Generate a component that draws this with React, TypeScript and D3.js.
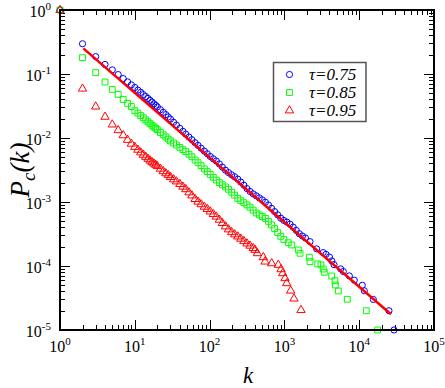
import React from "react";
import * as d3 from "d3";

// cumulative distributions P_c(k)
const tau075: [number, number][] = [
  [1, 1], [2, 0.297], [3, 0.187], [4, 0.141], [5, 0.116], [6, 0.098], [7, 0.085], [8, 0.0753], [9, 0.0677],
  [10, 0.0616], [11, 0.056], [12, 0.0517], [13, 0.0477], [14, 0.0444], [15, 0.0415], [16, 0.0388], [17, 0.0365],
  [18, 0.0342], [19, 0.0324], [20, 0.0306], [22, 0.0277], [24, 0.0252], [26, 0.0232], [28, 0.0213], [30, 0.0197],
  [33, 0.0176], [36, 0.0159], [40, 0.01415], [44, 0.0127], [48, 0.0115], [53, 0.01036], [58, 0.0094], [64, 0.00844],
  [70, 0.00766], [77, 0.00692], [85, 0.00624], [93, 0.00567], [102, 0.00514], [112, 0.00473], [123, 0.00436],
  [135, 0.00393], [148, 0.00351], [163, 0.00314], [179, 0.00288], [197, 0.00266], [216, 0.00248], [238, 0.00228],
  [261, 0.00205], [287, 0.00183], [316, 0.00162], [347, 0.00146], [382, 0.00134], [420, 0.00125], [461, 0.00116],
  [507, 0.00108], [557, 0.000993], [612, 0.000897], [673, 0.000796], [740, 0.000708], [813, 0.00063],
  [894, 0.000559], [983, 0.000515], [1080, 0.000485], [1190, 0.00045], [1310, 0.000405], [1440, 0.00036],
  [1580, 0.00032], [1740, 0.000294], [1910, 0.000274], [2200, 2.4e-4], [2700, 1.85e-4], [3300, 1.62e-4],
  [3600, 1.52e-4], [4000, 1.38e-4], [4300, 1.2e-4], [4600, 1.05e-4], [5650, 9.0e-5], [6130, 8.2e-5],
  [7380, 7.0e-5], [8600, 6.0e-5], [11000, 5.0e-5], [11700, 4.1e-5], [15450, 3.0e-5], [25000, 2.0e-5],
  [29200, 1.0e-5],
];

const tau085: [number, number][] = [
  [1, 1], [2, 0.18], [3, 0.105], [4, 0.075], [5, 0.0575], [6, 0.048], [7, 0.04], [8, 0.0348], [9, 0.031],
  [10, 0.0267], [11, 0.0245], [12, 0.0224], [13, 0.0207], [14, 0.0192], [15, 0.0179], [16, 0.0168], [17, 0.0158],
  [18, 0.0149], [19, 0.0142], [20, 0.0135], [22, 0.0122], [24, 0.0112], [26, 0.0104], [28, 0.0096], [30, 0.009],
  [33, 0.00833], [36, 0.00778], [40, 0.00713], [44, 0.00659], [48, 0.00614], [53, 0.00557], [58, 0.00509],
  [64, 0.00453], [70, 0.00411], [77, 0.0037], [85, 0.00329], [93, 0.00299], [102, 0.0027], [112, 0.00243],
  [123, 0.0022], [135, 0.00201], [148, 0.00186], [163, 0.00172], [179, 0.00158], [197, 0.00142], [216, 0.00128],
  [238, 0.00114], [261, 0.00105], [287, 0.000976], [316, 0.000902], [347, 0.00083], [382, 0.000746],
  [420, 0.000674], [461, 0.000629], [507, 0.000592], [557, 0.000553], [612, 0.000498], [673, 0.000438],
  [740, 0.000385], [813, 0.000332], [894, 0.000291], [983, 0.000259], [1127, 2.31e-4], [1253, 2.13e-4],
  [1535, 1.78e-4], [1618, 1.58e-4], [2153, 1.37e-4], [2198, 1.17e-4], [2786, 1.08e-4], [3083, 1.04e-4],
  [3311, 8.97e-5], [3412, 7.98e-5], [4285, 6.98e-5], [4742, 5.89e-5], [4800, 5.05e-5], [5260, 4.07e-5],
  [6934, 3.02e-5], [12450, 2.0e-5], [17660, 1.0e-5],
];

const tau095: [number, number][] = [
  [1, 1], [2, 0.0589], [3, 0.0309], [4, 0.0214], [5, 0.0162], [6, 0.0132], [7, 0.011], [8, 0.00933], [9, 0.00813],
  [10, 0.00724], [11, 0.00653], [12, 0.00593], [13, 0.00545], [14, 0.00506], [15, 0.00472], [16, 0.00443],
  [17, 0.00417], [18, 0.00398], [19, 0.0038], [20, 0.00363], [22, 0.0033], [24, 0.00302], [26, 0.0028],
  [28, 0.00262], [30, 0.00245], [33, 0.00225], [36, 0.00209], [40, 0.0019], [44, 0.00173], [48, 0.00158],
  [53, 0.00141], [58, 0.00126], [64, 0.00111], [70, 0.00101], [77, 0.00092], [85, 0.00084], [93, 0.000774],
  [102, 0.00071], [112, 0.000646], [123, 0.000589], [135, 0.000527], [148, 0.000468], [163, 0.000414],
  [179, 0.000372], [197, 0.000337], [216, 0.000311], [238, 0.000288], [261, 0.000266], [287, 0.000244],
  [316, 0.000224], [347, 0.000207], [382, 0.00019], [405, 1.78e-4], [435, 1.58e-4], [522, 1.37e-4],
  [551, 1.17e-4], [676, 1.1e-4], [828, 1.04e-4], [902, 8.87e-5], [948, 7.69e-5], [1019, 6.43e-5],
  [1074, 5.37e-5], [1213, 4.11e-5], [1343, 3.09e-5], [1667, 2.05e-5],
];

// power-law fit ~ k^-1 drawn over the tau=0.75 data
const fitK = [2.05, 26600];
const fitP = [0.251, 1.76e-5];

const legendLabels = ["τ=0.75", "τ=0.85", "τ=0.95"];
const xExps = [0, 1, 2, 3, 4, 5];
const yExps = [0, -1, -2, -3, -4, -5];

const FONT = "Liberation Serif, DejaVu Serif, serif";

export default function App() {
  const W = 445, H = 388;
  const left = 60, right = 434, top = 10, bottom = 330;

  const x = d3.scaleLog().domain([1, 1e5]).range([left, right]);
  const y = d3.scaleLog().domain([1e-5, 1]).range([bottom, top]);

  const circle = d3.symbol().type(d3.symbolCircle).size(30)()!;
  const square = d3.symbol().type(d3.symbolSquare).size(34)()!;
  const tri = d3.symbol().type(d3.symbolTriangle).size(30)()!;

  const series = [
    { data: tau075, color: "#0000ff", sym: circle },
    { data: tau085, color: "#00ff00", sym: square },
    { data: tau095, color: "#ff0000", sym: tri },
  ];

  // minor/major tick values
  const xTicks: { v: number; major: boolean }[] = [];
  for (let e = 0; e < 5; e++) for (let m = 1; m < 10; m++) xTicks.push({ v: m * 10 ** e, major: m === 1 });
  xTicks.push({ v: 1e5, major: true });
  const yTicks: { v: number; major: boolean }[] = [];
  for (let e = -5; e < 0; e++) for (let m = 1; m < 10; m++) yTicks.push({ v: m * 10 ** e, major: m === 1 });
  yTicks.push({ v: 1, major: true });

  const fitLine = d3.line<number>().x((d) => x(d)).y((_, i) => y(fitP[i]));

  return (
    <svg width={W} height={H} style={{ position: "absolute", left: 0, top: 0, background: "#fff" }} fontFamily={FONT}>
      <rect width={W} height={H} fill="#fff" />

      {/* ticks, mirrored on all four sides */}
      <g stroke="#000" strokeWidth={1}>
        {xTicks.map((t, i) => {
          const len = t.major ? 10 : 5;
          const xx = Math.round(x(t.v)) + 0.5;
          return (
            <g key={"xt" + i}>
              <line x1={xx} x2={xx} y1={bottom} y2={bottom - len} />
              <line x1={xx} x2={xx} y1={top} y2={top + len} />
            </g>
          );
        })}
        {yTicks.map((t, i) => {
          const len = t.major ? 10 : 5;
          const yy = Math.round(y(t.v)) + 0.5;
          return (
            <g key={"yt" + i}>
              <line x1={left} x2={left + len} y1={yy} y2={yy} />
              <line x1={right} x2={right - len} y1={yy} y2={yy} />
            </g>
          );
        })}
      </g>

      {/* data */}
      {series.map((s, si) => (
        <g key={"s" + si} fill="none" stroke={s.color} strokeWidth={1}>
          {s.data.map(([k, p], i) => (
            <path key={i} d={s.sym} transform={`translate(${x(k)},${y(p)})`} />
          ))}
        </g>
      ))}
      <path d={fitLine(fitK)!} fill="none" stroke="#ff0000" strokeWidth={2.5} />

      {/* frame */}
      <rect x={left} y={top} width={right - left} height={bottom - top} fill="none" stroke="#000" strokeWidth={2} />

      {/* tick labels */}
      <g fontSize={16} fill="#000">
        {xExps.map((e) => (
          <text key={"xl" + e} x={x(10 ** e)} y={352} textAnchor="middle">
            10<tspan dy={-7} fontSize={11}>{e}</tspan>
          </text>
        ))}
        {yExps.map((e) => (
          <text key={"yl" + e} x={51} y={y(10 ** e) + 7} textAnchor="end">
            10<tspan dy={-7} fontSize={11}>{e === 0 ? "0" : "-" + -e}</tspan>
          </text>
        ))}
      </g>

      {/* axis titles */}
      <text x={248} y={383} textAnchor="middle" fontSize={23} fontStyle="italic">k</text>
      <text transform="translate(29,170) rotate(-90)" textAnchor="middle" fontSize={27} fontStyle="italic">
        P<tspan dy={6} fontSize={19}>c</tspan><tspan dy={-6}>(k)</tspan>
      </text>

      {/* legend */}
      <rect x={273.5} y={62.5} width={92.5} height={59} fill="#fff" stroke="#555" strokeWidth={1.5} />
      {legendLabels.map((lab, i) => (
        <g key={"lg" + i}>
          <path d={series[i].sym} transform={`translate(289.5,${74.5 + i * 18})`} fill="none" stroke={series[i].color} strokeWidth={1} />
          <text x={309} y={80 + i * 18} fontSize={17} fontStyle="italic">{lab}</text>
        </g>
      ))}
    </svg>
  );
}
